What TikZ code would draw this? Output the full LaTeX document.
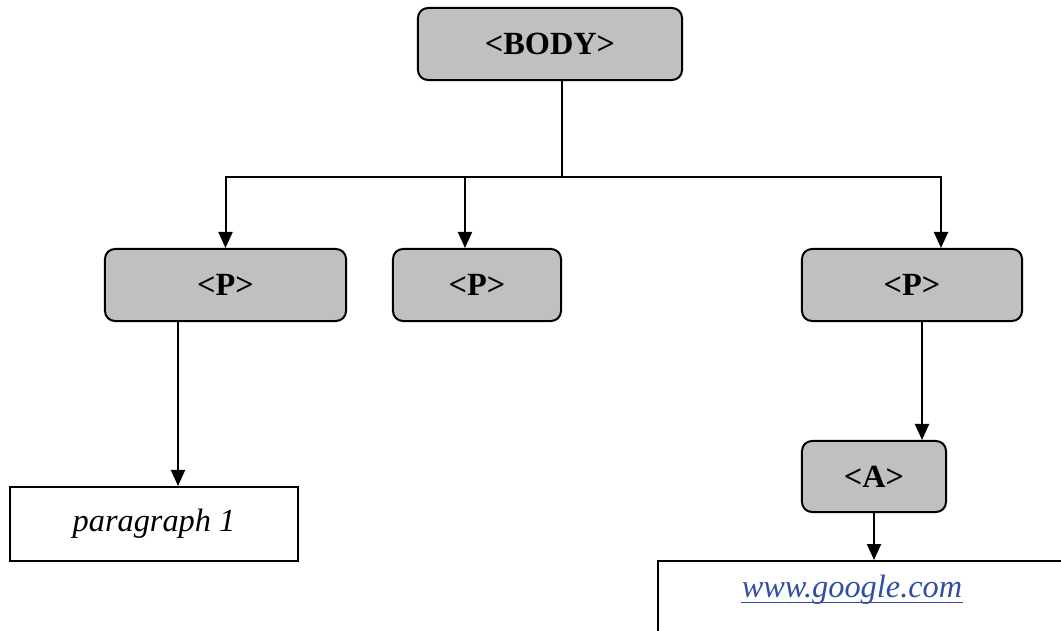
\documentclass[tikz,border=0pt]{standalone}
\usepackage{fontspec}
\setmainfont{Liberation Serif}
\usepackage{tikz}
\usetikzlibrary{calc,arrows.meta}
\definecolor{tagfill}{RGB}{192,192,192}
\definecolor{linkblue}{RGB}{50,78,163}
\tikzset{
  tag/.style={draw,fill=tagfill,rounded corners=0.25cm,minimum height=1.8cm,
    font=\fontsize{23}{27}\selectfont\bfseries,inner sep=0pt},
  leaf/.style={draw,minimum height=1.85cm,inner sep=0pt,
    font=\fontsize{23}{27}\selectfont\itshape},
  link/.style={-{Triangle[length=0.4cm,width=0.35cm]}}
}

\begin{document}
\begin{tikzpicture}[x=0.025cm,y=-0.025cm,line width=0.05cm]
            \useasboundingbox (0,0) rectangle (1061,631);
            \clip (0,0) rectangle (1061,631);

            \node[tag,minimum width=6.6cm] (body) at (550,44){<BODY>};
            \node[tag,minimum width=6.025cm] (p1) at (225.5,285){<P>};
            \node[tag,minimum width=4.2cm] (p2) at (477,285){<P>};
            \node[tag,minimum width=5.5cm] (p3) at (912,285){<P>};
            \node[tag,minimum width=3.6cm,minimum height=1.775cm] (a) at (874,476.5){<A>};

            \node[leaf,minimum width=7.2cm] (par) at (154,524){paragraph 1};
            \node[draw,minimum width=11cm,minimum height=4cm,anchor=north west] (box) at (657,560){};
            \node[font=\fontsize{23}{27}\selectfont\itshape,text=linkblue,inner sep=0pt] (url) at (852,590){www.google.com};
            \draw[linkblue,line width=1.1pt] ([yshift=-3.5pt]url.base west) -- ([yshift=-3.5pt]url.base east);

            % tree lines
            \coordinate (split) at (562,177);
            \coordinate (p2in) at ($(p2.north)+(-12,0)$);
            \coordinate (p3in) at ($(p3.north)+(29,0)$);
            \coordinate (p1out) at ($(p1.south)+(-47.5,0)$);
            \coordinate (p3out) at ($(p3.south)+(10,0)$);
            \draw (split |- body.south) -- (split);
            \draw[link] (split) -| (p1.north);
            \draw[link] (p2in |- split) -- (p2in);
            \draw[link] (split) -| (p3in);
            \draw[link] (p1out) -- (p1out |- par.north);
            \draw[link] (p3out) -- (p3out |- a.north);
            \draw[link] (a.south) -- (a.south |- box.north);
\end{tikzpicture}
\end{document}
